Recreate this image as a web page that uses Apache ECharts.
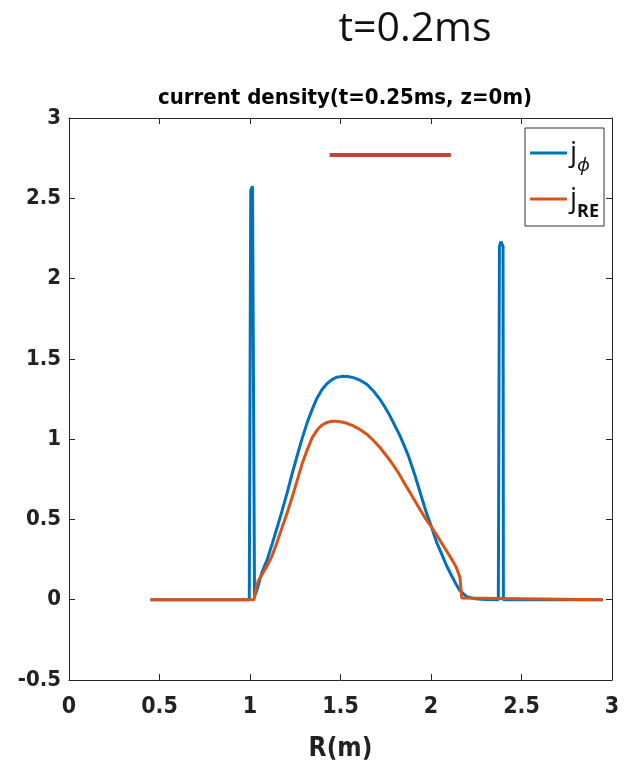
<!DOCTYPE html>
<html>
<head>
<meta charset="utf-8">
<script src="https://cdn.jsdelivr.net/npm/echarts@6/dist/echarts.min.js"></script>
<style>
html,body{margin:0;padding:0;background:#fff;}
#chart{width:631px;height:774px;}
</style>
</head>
<body>
<div id="chart"></div>
<script>
const xTicks = [0, 0.5, 1, 1.5, 2, 2.5, 3];
const yTicks = [-0.5, 0, 0.5, 1, 1.5, 2, 2.5, 3];

const jPhiR = [0.45,0.996,1.004,1.014,1.022,1.025,1.037,1.066,1.095,1.122,1.15,1.177,1.205,1.232,1.26,1.287,1.315,1.343,1.37,1.398,1.425,1.453,1.48,1.508,1.54,1.571,1.608,1.645,1.682,1.718,1.745,1.773,1.80,1.829,1.852,1.875,1.912,1.949,1.975,2.004,2.03,2.059,2.087,2.114,2.137,2.16,2.197,2.243,2.30,2.372,2.378,2.386,2.398,2.40,2.95];
const jPhiV = [0,0,2.55,2.575,2.57,0.02,0.056,0.17,0.25,0.346,0.45,0.553,0.665,0.78,0.895,1.0,1.1,1.184,1.255,1.309,1.345,1.371,1.386,1.391,1.39,1.383,1.367,1.342,1.30,1.248,1.20,1.145,1.085,1.02,0.96,0.896,0.772,0.635,0.54,0.45,0.36,0.284,0.21,0.149,0.10,0.056,0.019,0.006,0.002,0,2.2,2.23,2.2,0,0];

const jReR = [0.45,1.022,1.035,1.046,1.066,1.094,1.122,1.15,1.177,1.205,1.232,1.26,1.287,1.315,1.343,1.37,1.385,1.398,1.425,1.453,1.48,1.508,1.54,1.571,1.608,1.645,1.682,1.718,1.755,1.792,1.82,1.847,1.893,1.94,1.967,2.004,2.04,2.077,2.114,2.14,2.16,2.17,2.18,2.95];
const jReV = [0,0,0.08,0.118,0.155,0.21,0.273,0.36,0.449,0.54,0.635,0.74,0.843,0.93,1.008,1.055,1.075,1.088,1.104,1.111,1.111,1.107,1.097,1.083,1.06,1.031,0.992,0.948,0.895,0.838,0.79,0.737,0.65,0.56,0.51,0.45,0.387,0.32,0.253,0.2,0.139,0.01,0,0];

const barR = [1.44, 2.11];
const barV = [2.77, 2.77];

const zip = (a, b) => a.map((v, i) => [v, b[i]]);

const axisFont = '"Liberation Sans Narrow","DejaVu Sans Condensed","Liberation Sans",sans-serif';
const textFont = '"Open Sans","Noto Sans",sans-serif';
const axisColor = '#262626';

const chart = echarts.init(document.getElementById('chart'), null, {renderer: 'canvas'});
const commonAxis = {
  axisLine: {show: true, onZero: false, lineStyle: {color: axisColor, width: 1}},
  axisTick: {show: true, inside: true, length: 6, lineStyle: {color: axisColor}},
  splitLine: {show: false}
};
chart.setOption({
  animation: false,
  backgroundColor: '#fff',
  title: [
    {text: 't=0.2ms', left: 410, top: 4, textAlign: 'center',
     textStyle: {fontFamily: textFont, fontWeight: 'normal', fontSize: 41, color: '#111'}},
    {text: 'current density(t=0.25ms, z=0m)', left: 340, top: 82, textAlign: 'center',
     textStyle: {fontFamily: axisFont, fontWeight: 'bold', fontSize: 22, color: '#000'}}
  ],
  grid: {left: 69, right: 19, top: 118, bottom: 94, containLabel: false},
  legend: {
    orient: 'vertical', left: 525, top: 128,
    padding: [11, 5, 5, 5],
    itemGap: 10,
    itemWidth: 37, itemHeight: 3,
    borderColor: '#333', borderWidth: 1, backgroundColor: '#fff',
    data: [{name: 'jphi', icon: 'rect'}, {name: 'jre', icon: 'rect'}],
    formatter: n => n === 'jphi' ? '{j|j}{s|ϕ}' : '{j|j}{r|RE}',
    textStyle: {
      padding: [0, 0, 0, -2],
      rich: {
        j: {fontFamily: textFont, fontSize: 28, color: '#111', lineHeight: 44, verticalAlign: 'middle'},
        s: {fontFamily: textFont, fontSize: 19, fontStyle: 'italic', color: '#111', lineHeight: 20, verticalAlign: 'bottom'},
        r: {fontFamily: textFont, fontSize: 18, fontWeight: 'bold', color: '#111', lineHeight: 18, verticalAlign: 'bottom'}
      }
    }
  },
  xAxis: [
    Object.assign({}, commonAxis, {type: 'value', position: 'bottom', min: xTicks[0], max: xTicks[xTicks.length-1], interval: 0.5,
      name: 'R(m)', nameLocation: 'middle', nameGap: 56,
      nameTextStyle: {fontFamily: axisFont, fontWeight: 'bold', fontSize: 26, color: '#222'},
      axisLabel: {fontFamily: axisFont, fontWeight: 'bold', fontSize: 23, color: '#222', margin: 16, formatter: v => String(v)}}),
    Object.assign({}, commonAxis, {type: 'value', position: 'top', min: xTicks[0], max: xTicks[xTicks.length-1], interval: 0.5,
      axisLabel: {show: false}})
  ],
  yAxis: [
    Object.assign({}, commonAxis, {type: 'value', position: 'left', min: yTicks[0], max: yTicks[yTicks.length-1], interval: 0.5,
      axisLabel: {fontFamily: axisFont, fontWeight: 'bold', fontSize: 22, color: '#222', margin: 8, formatter: v => String(v)}}),
    Object.assign({}, commonAxis, {type: 'value', position: 'right', min: yTicks[0], max: yTicks[yTicks.length-1], interval: 0.5,
      axisLabel: {show: false}})
  ],
  series: [
    {name: 'bar', type: 'line', data: zip(barR, barV), showSymbol: false, symbol: 'none',
     lineStyle: {color: '#C0463A', width: 4}, itemStyle: {color: '#C0463A'}, z: 3},
    {name: 'jphi', type: 'line', data: zip(jPhiR, jPhiV), showSymbol: false, symbol: 'none',
     lineStyle: {color: '#0072BD', width: 3}, itemStyle: {color: '#0072BD'}, z: 4},
    {name: 'jre', type: 'line', data: zip(jReR, jReV), showSymbol: false, symbol: 'none',
     lineStyle: {color: '#D95319', width: 3}, itemStyle: {color: '#D95319'}, z: 5}
  ]
});
</script>
</body>
</html>
